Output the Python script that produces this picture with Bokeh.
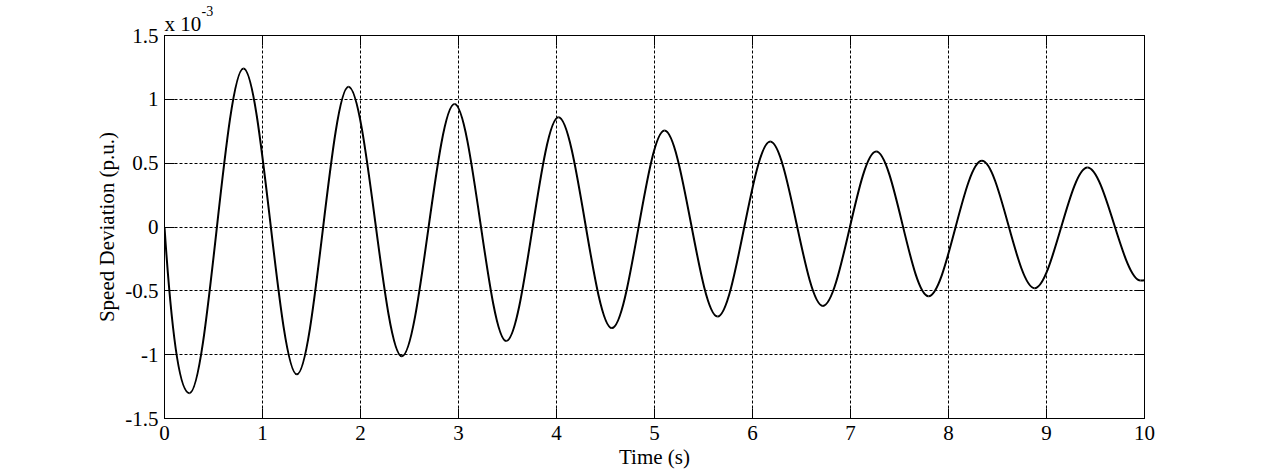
from bokeh.plotting import figure
from bokeh.models import (Range1d, FixedTicker, LinearAxis, Title,
                          CustomJSTickFormatter, ColumnDataSource)
from bokeh.embed import file_html
from bokeh.resources import INLINE

# ---- data (speed deviation in units of 1e-3 p.u.), read at the turning points
time_pts = [0.0, 0.255, 0.806, 1.351, 1.878, 2.422, 2.959, 3.487, 4.020,
            4.565, 5.102, 5.643, 6.181, 6.718, 7.262, 7.796, 8.341, 8.878,
            9.418, 9.960, 10.0]
speed_dev = [0.0, -1.302, 1.242, -1.154, 1.098, -1.013, 0.963, -0.893, 0.859,
             -0.792, 0.755, -0.701, 0.669, -0.618, 0.591, -0.542, 0.518,
             -0.479, 0.466, -0.420, -0.418]

x_ticks = [0, 1, 2, 3, 4, 5, 6, 7, 8, 9, 10]
x_tick_labels = ["0", "1", "2", "3", "4", "5", "6", "7", "8", "9", "10"]
y_ticks = [-1.5, -1.0, -0.5, 0.0, 0.5, 1.0, 1.5]
y_tick_labels = ["-1.5", "-1", "-0.5", "0", "0.5", "1", "1.5"]

FONT = "Liberation Serif"
FS = "21px"

# smooth curve through the turning points: cubic segments with flat tangents
x0s, y0s, x1s, y1s, cx0s, cy0s, cx1s, cy1s = [], [], [], [], [], [], [], []
for i in range(len(time_pts) - 1):
    xa, ya, xb, yb = time_pts[i], speed_dev[i], time_pts[i + 1], speed_dev[i + 1]
    dx = xb - xa
    x0s.append(xa); y0s.append(ya); x1s.append(xb); y1s.append(yb)
    cx0s.append(xa + dx / 3.0)
    # the first segment leaves zero with a steep slope
    cy0s.append(ya + 0.75 * (yb - ya) if i == 0 else ya)
    cx1s.append(xb - dx / 3.0)
    cy1s.append(yb)
src = ColumnDataSource(dict(x0=x0s, y0=y0s, x1=x1s, y1=y1s,
                            cx0=cx0s, cy0=cy0s, cx1=cx1s, cy1=cy1s))

p = figure(width=1264, height=471, output_backend="svg", toolbar_location=None,
           x_range=Range1d(0, 10), y_range=Range1d(-1.5, 1.5),
           min_border_left=164, min_border_right=120,
           min_border_top=35, min_border_bottom=52)
p.background_fill_color = "white"
p.border_fill_color = "white"
p.outline_line_color = "black"
p.outline_line_width = 1
p.outline_line_alpha = 1

xt = FixedTicker(ticks=x_ticks, minor_ticks=[])
yt = FixedTicker(ticks=y_ticks, minor_ticks=[])

for ax, tk, labels in ((p.xaxis[0], xt, x_tick_labels), (p.yaxis[0], yt, y_tick_labels)):
    ax.ticker = tk
    ax.major_label_overrides = {t: l for t, l in zip(tk.ticks, labels)}
    ax.major_tick_in = 10
    ax.major_tick_out = 0
    ax.minor_tick_in = 0
    ax.minor_tick_out = 0
    ax.axis_line_color = "black"
    ax.major_tick_line_color = "black"
    ax.major_label_text_font = FONT
    ax.major_label_text_font_size = FS
    ax.major_label_text_color = "black"
    ax.axis_label_text_font = FONT
    ax.axis_label_text_font_size = FS
    ax.axis_label_text_font_style = "normal"
    ax.axis_label_text_color = "black"

p.xaxis[0].axis_label = "Time (s)"
p.xaxis[0].major_label_standoff = 7
p.xaxis[0].axis_label_standoff = 2
p.yaxis[0].axis_label = "Speed Deviation (p.u.)"
p.yaxis[0].major_label_standoff = 6
p.yaxis[0].axis_label_standoff = 3

# mirrored inward ticks on top and right (no labels)
for tk, side in ((xt, "above"), (yt, "right")):
    ax = LinearAxis(ticker=tk, formatter=CustomJSTickFormatter(code="return ''"))
    ax.major_tick_in = 10
    ax.major_tick_out = 0
    ax.minor_tick_in = 0
    ax.minor_tick_out = 0
    ax.major_label_text_font_size = "1px"
    ax.major_label_standoff = 0
    ax.axis_line_color = "black"
    ax.major_tick_line_color = "black"
    p.add_layout(ax, side)

for g in (p.xgrid[0], p.ygrid[0]):
    g.grid_line_color = "black"
    g.grid_line_dash = "3 2"
    g.grid_line_width = 1
    g.grid_line_alpha = 1
p.xgrid[0].ticker = xt
p.ygrid[0].ticker = yt

p.bezier(x0="x0", y0="y0", x1="x1", y1="y1", cx0="cx0", cy0="cy0",
         cx1="cx1", cy1="cy1", source=src, line_color="black", line_width=2)

# exponent note "x 10^-3" above the top-left corner of the axes
p.add_layout(Title(text="x 10", align="left", offset=0, standoff=0,
                   text_font=FONT, text_font_size=FS, text_font_style="normal",
                   text_color="black"), "above")
p.add_layout(Title(text="-3", align="left", offset=37, standoff=-12,
                   text_font=FONT, text_font_size="14px", text_font_style="normal",
                   text_color="black"), "above")

open("out.html", "w").write(file_html(p, INLINE))
